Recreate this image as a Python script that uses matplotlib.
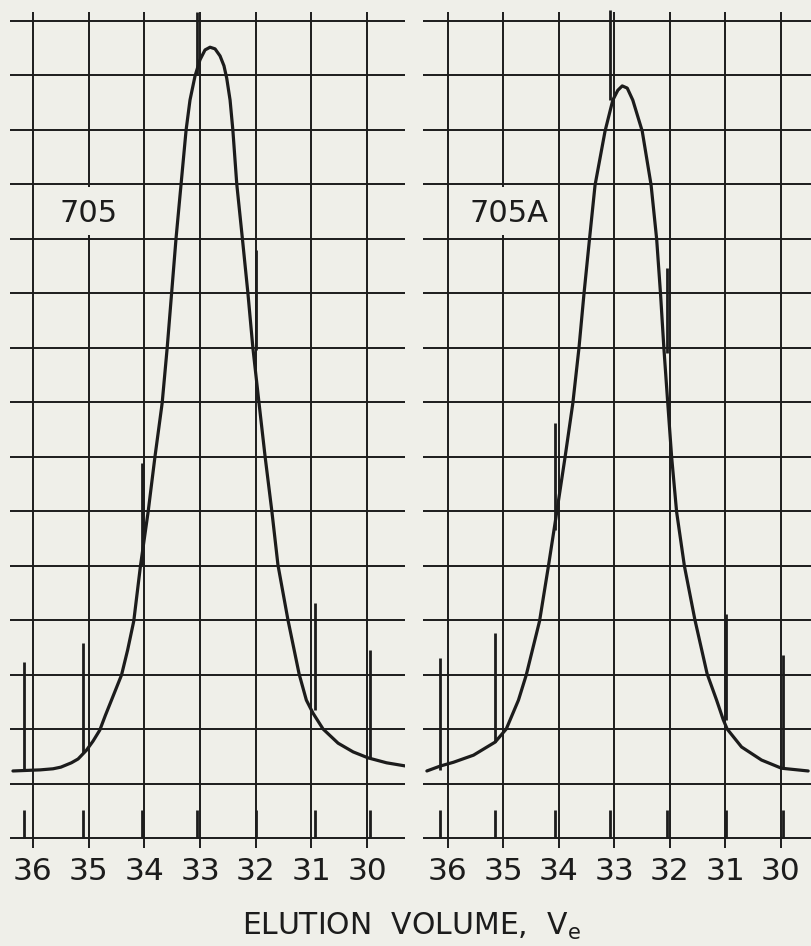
import matplotlib.pyplot as plt
from matplotlib.patches import Rectangle

# elution volume grid (counts) and chart divisions
volumes = [36, 35, 34, 33, 32, 31, 30]
tick_labels = ['36', '35', '34', '33', '32', '31', '30']
rows = list(range(16))

# sample 705: detector trace (volume, divisions)
vol_705 = [36.36, 35.87, 35.64, 35.50, 35.31, 35.19, 35.04, 34.92, 34.80, 34.70,
           34.59, 34.50, 34.41, 34.30, 34.19, 34.07,
           33.93, 33.81, 33.68, 33.59, 33.51, 33.43, 33.34, 33.25, 33.18, 33.09,
           33.00, 32.91, 32.82, 32.73, 32.64, 32.57, 32.52, 32.46, 32.41, 32.34,
           32.24, 32.14, 32.05, 31.94, 31.83, 31.71, 31.60, 31.42, 31.22, 31.09,
           30.97, 30.79, 30.52, 30.25, 29.98, 29.65, 29.30]
resp_705 = [1.23, 1.25, 1.27, 1.30, 1.38, 1.45, 1.61, 1.78, 1.98, 2.25,
            2.53, 2.76, 2.99, 3.45, 3.98, 4.99,
            6.00, 6.99, 7.98, 8.99, 10.00, 11.01, 12.00, 12.99, 13.54, 13.98,
            14.28, 14.46, 14.51, 14.48, 14.35, 14.17, 13.94, 13.54, 12.99, 12.00,
            11.01, 10.00, 8.99, 7.98, 6.99, 6.00, 5.01, 4.00, 3.01, 2.53,
            2.29, 2.00, 1.74, 1.58, 1.47, 1.38, 1.32]

# sample 705A
vol_705a = [36.38, 36.14, 35.90, 35.54, 35.15, 34.95, 34.73, 34.59, 34.35, 34.19,
            34.04, 33.89, 33.75, 33.64, 33.55, 33.45, 33.35, 33.17, 33.03, 32.94,
            32.86, 32.77, 32.67, 32.50, 32.34, 32.24, 32.17, 32.11, 32.04, 31.97,
            31.88, 31.74, 31.55, 31.33, 31.16, 31.04, 30.97, 30.71, 30.35, 29.99,
            29.51]
resp_705a = [1.23, 1.32, 1.39, 1.52, 1.76, 2.00, 2.53, 2.99, 3.98, 4.99,
             5.98, 6.99, 7.98, 8.99, 9.98, 10.99, 11.98, 12.97, 13.54, 13.72,
             13.80, 13.76, 13.54, 12.97, 11.98, 10.99, 9.98, 8.99, 7.98, 6.99,
             5.98, 4.99, 4.00, 3.01, 2.53, 2.17, 2.00, 1.67, 1.43, 1.28,
             1.23]

# siphon / count markers: position, spike top, spike bottom
marks_705 = [36.16, 35.10, 34.05, 33.05, 31.99, 30.93, 29.94]
top_705 = [3.23, 3.58, 6.88, 15.16, 10.79, 4.31, 3.45]
bot_705 = [1.25, 1.56, 5.01, 14.00, 8.95, 2.35, 1.47]

marks_705a = [36.14, 35.15, 34.08, 33.08, 32.05, 30.99, 29.97]
top_705a = [3.30, 3.76, 7.61, 15.19, 10.46, 4.11, 3.36]
bot_705a = [1.25, 1.76, 5.65, 13.54, 8.90, 2.17, 1.28]

count_tick = 0.51

paper = '#efefe9'
ink = '#1c1c1c'

W, H = 812, 946
fig = plt.figure(figsize=(W / 100, H / 100), dpi=100, facecolor=paper)


def panel(x0, x1, xlim, vol, resp, marks, tops, bots, name, name_x, gap):
    ax = fig.add_axes([x0 / W, 1 - 848 / H, (x1 - x0) / W, 838 / H])
    ax.set_facecolor(paper)
    ax.set_xlim(*xlim)
    ax.set_ylim(-0.1835, 15.193)
    ax.axis('off')
    ax.vlines(volumes, -0.1835, 15.15, color=ink, lw=1.4, zorder=1)
    # blank patch behind the sample label, as on the original chart paper
    ax.add_patch(Rectangle((gap[0], 11.06), gap[1] - gap[0], 0.88,
                           facecolor=paper, edgecolor='none', zorder=2))
    ax.hlines(rows, xlim[0], xlim[1], color=ink, lw=1.4, zorder=3)
    ax.plot(vol, resp, color=ink, lw=2.3, solid_capstyle='round',
            solid_joinstyle='round', zorder=4)
    ax.vlines(marks, bots, tops, color=ink, lw=2.0, zorder=4)
    ax.vlines(marks, 0, count_tick, color=ink, lw=2.0, zorder=4)
    ax.text(name_x, 11.45, name, fontsize=22, color=ink, ha='center',
            va='center', zorder=5)
    for v, lab in zip(volumes, tick_labels):
        ax.text(v, -0.62, lab, fontsize=22.5, color=ink, ha='center',
                va='center', clip_on=False)
    return ax


panel(10, 405, (36.413, 29.318), vol_705, resp_705, marks_705, top_705, bot_705,
      '705', 35.01, (35.45, 34.55))
panel(423, 812, (36.450, 29.441), vol_705a, resp_705a, marks_705a, top_705a,
      bot_705a, '705A', 34.90, (35.55, 34.25))

fig.text(411 / W, 1 - 926 / H, r'ELUTION  VOLUME,  V$_\mathregular{e}$',
         fontsize=21.5, color=ink, ha='center', va='center')

fig.savefig('out.png', dpi=100, facecolor=paper)
